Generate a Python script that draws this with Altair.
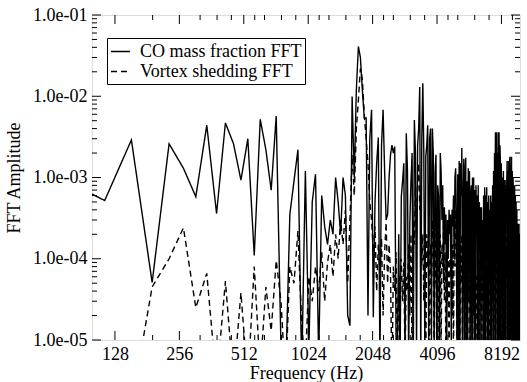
import altair as alt
import pandas as pd

# FFT bin spacing (Hz) and first bin index
DF = 38.2
K0 = 2

series_names = ["CO mass fraction FFT", "Vortex shedding FFT"]

co_fft = [
    9e-4, 5.2e-4, 2.9e-3, 5.1e-5, 2.6e-3, 1.3e-3, 5.8e-4, 4.4e-3, 3.6e-4, 4.7e-3,
    2.6e-3, 9.3e-4, 3.0e-3, 1.1e-4, 5.2e-3, 2.2e-3, 7e-4, 5.7e-3, 8e-6, 3e-6,
    3.5e-4, 9e-4, 2.2e-3, 4e-6, 1.2e-3, 8e-6, 5e-4, 1.1e-3, 6e-6, 6e-4,
    2.5e-4, 1.5e-4, 3e-4, 2e-4, 1e-3, 5e-4, 2e-4, 1e-3, 6e-4, 2e-5,
    1.5e-5, 9.9e-3, 1.0e-3, 1.2e-2, 4.1e-2, 3.0e-2, 1.2e-2, 5.4e-3, 5.4e-3, 2e-5,
    3e-3, 6.8e-3, 1.9e-5, 5e-4, 1.5e-3, 3.1e-3, 5e-6, 2.5e-3, 6.8e-3, 1.2e-3,
    3e-4, 3.5e-4, 1e-3, 1.9e-3, 2.5e-3, 2e-3, 2.4e-3, 1e-5, 8e-6, 2e-4,
    4e-6, 5.8e-4, 9e-4, 1.5e-3, 6e-6, 3.5e-3, 1.2e-3, 5e-6, 2.7e-4, 9e-4,
    2e-3, 3e-6, 5.1e-3, 2e-3, 7e-6, 2.5e-3, 4e-3, 1.3e-2, 5e-6, 3e-3,
    1.44e-2, 2e-3, 6e-6, 1.8e-3, 2.5e-3, 4.4e-3, 8e-6, 3e-3, 4e-3, 1e-5,
    4e-3, 1.9e-3, 5e-6, 1.2e-3, 1.9e-3, 4e-6, 8e-4, 5.8e-4, 2e-6, 2e-3,
    1.2e-3, 3e-4, 8e-4, 5e-5, 4.3e-4, 1.5e-4, 3.5e-4, 6e-6, 3e-4, 1e-4,
    4e-4, 2e-4, 3.5e-4, 8e-6, 4e-4, 2.5e-4, 6e-4, 1e-4, 1e-3, 1.3e-3,
    3e-4, 4e-6, 1.1e-3, 8e-6, 1.6e-3, 5e-6, 1.5e-3, 6e-4, 2.3e-3, 3e-6,
    5e-4, 1.7e-3, 6e-6, 1.2e-3, 1.75e-3, 4e-6, 9e-4, 7e-6, 1.3e-3, 1e-4,
    1.2e-3, 6e-6, 6e-4, 8e-4, 5e-6, 1e-3, 3e-5, 1e-3, 4e-6, 7e-4,
    4e-6, 8e-4, 3e-4, 6e-4, 5e-6, 8e-4, 6e-6, 5e-4, 2e-4, 4.3e-4,
    5e-6, 4.3e-4, 1.2e-4, 3e-4, 5e-6, 6e-4, 4e-6, 7.6e-4, 3e-6, 6e-4,
    4e-4, 7.6e-4, 6e-6, 5e-4, 3e-6, 6e-4, 1e-4, 4e-4, 5e-6, 6e-4,
    3e-6, 5e-4, 1.5e-4, 8e-4, 5e-6, 1.2e-3, 4e-6, 2e-3, 5e-4, 3.6e-3,
    8e-6, 3.6e-3, 1e-3, 2e-3, 5e-6, 3.6e-3, 1e-5, 3.6e-3, 6e-6, 2.5e-3,
    1.5e-3, 4e-6, 1.5e-3, 5e-4, 1e-3, 6e-6, 8e-5, 1.2e-3, 3e-6, 9.3e-4,
    5e-6, 9.3e-4, 5e-6, 8e-4, 3e-4, 9e-4, 1.6e-3, 4e-6, 1.2e-3, 6e-6,
    1.6e-3, 5e-6, 1.6e-3, 1.8e-3, 2e-6, 1.4e-3, 6e-4, 1.8e-3, 3e-6, 1.2e-3,
    5e-6, 1e-3, 4e-4, 8e-4, 4e-6, 8e-4, 3e-5, 6e-4, 5e-6, 5e-4,
    8e-6, 4e-4, 1.5e-4, 2.7e-4, 3e-6, 2.7e-4, 1e-4, 2.7e-4, 6e-6, 2e-4,
    1e-4,
]

vortex_fft = [
    1e-6, 1e-6, 1.5e-6, 4.5e-5, 1.0e-4, 2.4e-4, 2.5e-5, 6.6e-5, 3e-6, 5.3e-5,
    3e-6, 3.8e-5, 3e-6, 8e-5, 4e-6, 4.5e-5, 1.3e-5, 9.5e-5, 3e-5, 3e-6,
    8e-5, 5e-5, 2.2e-4, 1.5e-5, 5e-6, 6e-5, 3e-5, 8e-5, 4e-5, 1.2e-4,
    3e-5, 9e-5, 1.5e-4, 6e-5, 2e-4, 1e-4, 3e-4, 1.5e-4, 4e-4, 5e-5,
    3e-4, 1.9e-3, 6e-4, 4e-3, 9e-3, 2.2e-2, 1.6e-2, 6e-3, 3e-3, 1.5e-3,
    5e-4, 3e-4, 1.2e-4, 2.5e-4, 4e-5, 1.5e-4, 6e-5, 1.8e-4, 2e-5, 1.2e-4,
    2.8e-4, 5e-5, 1.5e-4, 6.6e-5, 3e-6, 8e-5, 4e-5, 1.2e-4, 5e-6, 6e-5,
    4.5e-5, 1e-4, 3e-5, 9e-5, 5e-6, 6e-5, 4e-5, 1.5e-4, 2e-5, 2e-4,
    4e-6, 3e-4, 1.5e-4, 7.6e-4, 2e-4, 9e-4, 1.5e-3, 4e-4, 5.8e-4, 8e-5,
    2e-4, 3e-5, 1.5e-4, 5e-6, 2e-4, 8e-5, 2.5e-4, 4e-6, 1.5e-4, 6e-5,
    3e-4, 1e-4, 5e-6, 2e-4, 5e-5, 1.5e-4, 3e-6, 1e-4, 4e-5, 2e-4,
    6e-6, 1.5e-4, 8e-5, 2.5e-4, 3e-5, 1.2e-4, 4e-6, 8e-5, 3e-5, 1.5e-4,
    5e-6, 1e-4, 6e-5, 2e-4, 2e-5, 1.5e-4, 5e-6, 3e-4, 8e-5, 4e-4,
    1e-4, 5e-6, 2.5e-4, 6e-5, 3e-4, 4e-6, 1.5e-4, 5e-5, 2e-4, 1e-5,
    1.2e-4, 4e-5, 2e-4, 6e-6, 1.5e-4, 3e-5, 8e-5, 4e-6, 1.2e-4, 3e-5,
    2e-4, 5e-6, 1e-4, 6e-5, 1.5e-4, 3e-6, 8e-5, 2e-5, 1.2e-4, 5e-6,
    1e-4, 4e-5, 6e-5, 3e-6, 1.5e-4, 5e-5, 8e-5, 5e-6, 1e-4, 3e-5,
    6e-5, 4e-6, 1.2e-4, 3e-5, 8e-5, 6e-6, 1.5e-4, 4e-5, 1e-4, 3e-6,
    8e-5, 2e-5, 1.2e-4, 5e-6, 1e-4, 4e-5, 2e-4, 3e-6, 1e-4, 5e-5,
    1.5e-4, 5e-6, 8e-5, 3e-5, 2e-4, 6e-6, 3e-4, 8e-5, 2e-4, 5e-6,
    4e-4, 1e-4, 3e-4, 6e-6, 2.5e-4, 8e-5, 3e-4, 4e-6, 2e-4, 6e-5,
    1.5e-4, 5e-6, 2e-4, 4e-5, 1e-4, 3e-6, 1.5e-4, 5e-5, 8e-5, 5e-6,
    1.2e-4, 3e-5, 2e-4, 6e-6, 1.5e-4, 6e-5, 3e-4, 4e-6, 2.5e-4, 8e-5,
    3e-4, 5e-6, 2e-4, 1e-4, 3e-4, 6e-6, 2e-4, 5e-5, 1.5e-4, 4e-6,
    1e-4, 3e-5, 1.5e-4, 5e-6, 8e-5, 4e-5, 1.2e-4, 3e-6, 1e-4, 3e-5,
    8e-5, 5e-6, 6e-5, 2e-5, 1e-4, 4e-6, 6e-5, 3e-5, 8e-5, 5e-6,
    4e-5,
]

x_major = [128, 256, 512, 1024, 2048, 4096, 8192]
x_minor = [192, 320, 384, 448, 576, 640, 768, 896, 1152, 1280, 1536, 1792,
           2304, 2560, 3072, 3584, 4608, 5120, 6144, 7168, 9216]
y_major = [1e-5, 1e-4, 1e-3, 1e-2, 1e-1]
y_minor = [m * 10.0 ** e for e in [-5, -4, -3, -2] for m in [2, 3, 4, 5, 6, 7, 8, 9]]

freq = [DF * (K0 + i) for i in range(len(co_fft))]
rows = []
for f, a in zip(freq, co_fft):
    rows.append({"freq": f, "amp": a, "series": series_names[0]})
for f, a in zip(freq, vortex_fft):
    rows.append({"freq": f, "amp": a, "series": series_names[1]})
df = pd.DataFrame(rows)

W, H = 428, 325
FONT = "Liberation Serif"
FS = 18
xscale = alt.Scale(type="log", domain=[100, 10000])
yscale = alt.Scale(type="log", domain=[1e-5, 1e-1])

x_axis = alt.Axis(values=x_major, format="d", title="Frequency (Hz)", ticks=False,
                  domain=False, grid=False, labelPadding=5, titlePadding=1,
                  labelFlush=False, labelFont=FONT, labelFontSize=FS, labelColor="black",
                  titleFont=FONT, titleFontSize=FS, titleFontWeight="normal",
                  titleColor="black")
y_axis = alt.Axis(values=y_major, title="FFT Amplitude", ticks=False, domain=False,
                  grid=False, labelPadding=5, titlePadding=9, labelFlush=False,
                  labelExpr="'1.0e-0' + toString(-round(log(datum.value) / LN10))",
                  labelFont=FONT, labelFontSize=FS, labelColor="black",
                  titleFont=FONT, titleFontSize=FS, titleFontWeight="normal",
                  titleColor="black")

lines = alt.Chart(df).mark_line(clip=True, strokeWidth=1.4, color="black").encode(
    x=alt.X("freq:Q", scale=xscale, axis=x_axis),
    y=alt.Y("amp:Q", scale=yscale, axis=y_axis),
    strokeDash=alt.StrokeDash("series:N",
                              scale=alt.Scale(domain=series_names, range=[[1, 0], [6, 4]]),
                              legend=alt.Legend(title=None, orient="none", legendX=15, legendY=23,
                                                strokeColor="black", fillColor="white",
                                                padding=3, symbolType="stroke",
                                                symbolSize=361, symbolStrokeWidth=1.4,
                                                symbolStrokeColor="black",
                                                labelFont=FONT, labelFontSize=FS,
                                                labelColor="black", labelLimit=400,
                                                labelOffset=9, rowPadding=0)),
    order=alt.Order("freq:Q"),
)

xmaj = pd.DataFrame({"freq": x_major})
xmin = pd.DataFrame({"freq": x_minor})
ymaj = pd.DataFrame({"amp": y_major})
ymin = pd.DataFrame({"amp": y_minor})

def xticks(data, y0, y1):
    return alt.Chart(data).mark_rule(color="black", strokeWidth=1).encode(
        x=alt.X("freq:Q", scale=xscale, axis=x_axis), y=alt.value(y0), y2=alt.value(y1))

def yticks(data, x0, x1):
    return alt.Chart(data).mark_rule(color="black", strokeWidth=1).encode(
        y=alt.Y("amp:Q", scale=yscale, axis=y_axis), x=alt.value(x0), x2=alt.value(x1))

MAJ, MIN = 9, 5
ticks = [
    xticks(xmaj, H, H - MAJ), xticks(xmaj, 0, MAJ),
    xticks(xmin, H, H - MIN), xticks(xmin, 0, MIN),
    yticks(ymaj, 0, MAJ), yticks(ymaj, W, W - MAJ),
    yticks(ymin, 0, MIN), yticks(ymin, W, W - MIN),
]

chart = alt.layer(lines, *ticks).properties(
    width=W, height=H,
    autosize=alt.AutoSizeParams(type="none"),
    padding={"left": 92, "top": 15, "right": 7, "bottom": 42},
).configure_view(stroke="black", strokeWidth=1.5).configure_legend(
    labelFont=FONT, labelFontSize=FS, labelColor="black",
).configure(background="white", font=FONT)

chart.save("out.html", embed_options={"renderer": "svg", "actions": False})
